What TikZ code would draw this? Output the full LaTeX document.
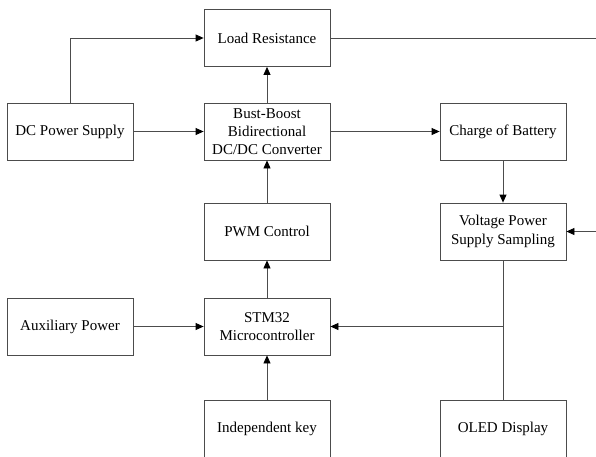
\documentclass[tikz,border=0pt]{standalone}
\usepackage{fontspec}
\setmainfont{Liberation Serif}
\usetikzlibrary{arrows.meta}

\begin{document}
\begin{tikzpicture}[x=1pt, y=-1pt, font=\fontsize{15}{18.3}\selectfont,
  block/.style={draw=black!70, line width=0.8pt, align=center,
    minimum width=126pt, minimum height=57pt, inner sep=2pt},
  link/.style={draw=black!70, line width=0.8pt},
  flow/.style={link, -{Triangle[length=8pt,width=7pt,black]}}]
  \useasboundingbox (0,0) rectangle (596,456);
  \clip (0,0) rectangle (596,456);

  \node[block] (load) at (267,38) {Load Resistance};
  \node[block] (dc) at (70,131.5) {DC Power Supply};
  \node[block] (conv) at (267,131.5) {Bust-Boost\\Bidirectional\\DC/DC Converter};
  \node[block] (charge) at (503,131.5) {Charge of Battery};
  \node[block] (pwm) at (267,231.5) {PWM Control};
  \node[block] (vpss) at (503,231.5) {Voltage Power\\Supply Sampling};
  \node[block] (aux) at (70,326.5) {Auxiliary Power};
  \node[block] (stm) at (267,326.5) {STM32\\Microcontroller};
  \node[block] (key) at (267,428.5) {Independent key};
  \node[block] (oled) at (503,428.5) {OLED Display};

  \coordinate (outA) at (596,38);
  \coordinate (outB) at (596,231.5);
  \coordinate (tap) at (vpss.south |- stm.east);

  \draw[flow] (dc.north) |- (load.west);
  \draw[flow] (dc) -- (conv);
  \draw[flow] (conv) -- (load);
  \draw[link] (load.east) -- (outA);
  \draw[flow] (conv) -- (charge);
  \draw[flow] (charge) -- (vpss);
  \draw[flow] (outB) -- (vpss.east);
  \draw[flow] (pwm) -- (conv);
  \draw[flow] (stm) -- (pwm);
  \draw[flow] (aux) -- (stm);
  \draw[flow] (key) -- (stm);
  \draw[link] (oled.north) -- (vpss.south);
  \draw[flow] (tap) -- (stm.east);
\end{tikzpicture}
\end{document}
